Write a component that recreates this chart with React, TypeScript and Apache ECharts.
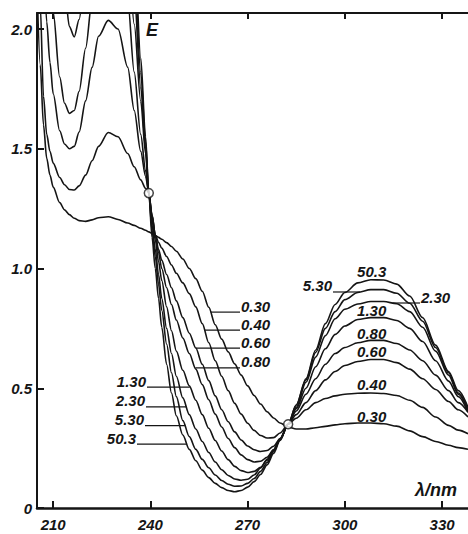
import React, { useEffect, useRef } from 'react';
import * as echarts from 'echarts';

// Wavelength grid (nm)
const wavelengths = [205, 206, 207, 208, 209, 210, 212, 213.5, 215, 216.5, 218, 220, 222, 224, 227, 230, 233, 235, 237, 238.5, 239.5, 240.5, 241.5, 242.5, 243.5, 245, 246.5, 248, 250, 252, 254, 256, 258, 260, 262, 264, 266, 268, 270, 272, 274, 276, 278, 280, 282.5, 285, 288, 291, 294, 297, 300, 304, 308, 312, 316, 320, 324, 328, 332, 335, 338];

// Extinction E for each pH curve (values above the frame are clipped)
const e030 = [2.2, 1.85, 1.6, 1.46, 1.39, 1.34, 1.275, 1.245, 1.225, 1.21, 1.2, 1.197, 1.203, 1.212, 1.216, 1.205, 1.19, 1.18, 1.168, 1.16, 1.153, 1.146, 1.138, 1.13, 1.122, 1.108, 1.092, 1.072, 1.04, 1.0, 0.958, 0.905, 0.838, 0.765, 0.705, 0.652, 0.602, 0.555, 0.51, 0.47, 0.434, 0.402, 0.376, 0.355, 0.338, 0.33, 0.33, 0.335, 0.341, 0.347, 0.352, 0.355, 0.355, 0.352, 0.342, 0.322, 0.298, 0.278, 0.262, 0.252, 0.245];
const e040 = [2.5, 2.1, 1.72, 1.56, 1.49, 1.44, 1.38, 1.35, 1.33, 1.328, 1.345, 1.39, 1.45, 1.51, 1.568, 1.55, 1.48, 1.425, 1.37, 1.335, 1.315, 1.22, 1.14, 1.11, 1.085, 1.05, 1.015, 0.98, 0.94, 0.895, 0.84, 0.77, 0.69, 0.615, 0.55, 0.49, 0.437, 0.392, 0.354, 0.324, 0.303, 0.292, 0.294, 0.313, 0.35, 0.375, 0.41, 0.44, 0.457, 0.468, 0.475, 0.479, 0.48, 0.478, 0.47, 0.45, 0.42, 0.38, 0.345, 0.325, 0.31];
const e060 = [2.8, 2.6, 2.3, 2.03, 1.86, 1.73, 1.575, 1.52, 1.5, 1.51, 1.57, 1.7, 1.84, 1.97, 2.036, 2.0, 1.84, 1.66, 1.49, 1.385, 1.315, 1.225, 1.14, 1.08, 1.035, 0.975, 0.92, 0.865, 0.795, 0.73, 0.668, 0.6, 0.532, 0.468, 0.41, 0.36, 0.318, 0.284, 0.259, 0.243, 0.236, 0.24, 0.258, 0.29, 0.35, 0.39, 0.44, 0.49, 0.535, 0.57, 0.595, 0.612, 0.62, 0.62, 0.607, 0.58, 0.54, 0.495, 0.445, 0.41, 0.38];
const e080 = [3.2, 3.0, 2.8, 2.55, 2.3, 2.07, 1.8, 1.69, 1.648, 1.66, 1.74, 1.92, 2.12, 2.3, 2.42, 2.4, 2.12, 1.82, 1.56, 1.41, 1.315, 1.22, 1.14, 1.065, 1.0, 0.92, 0.85, 0.785, 0.71, 0.645, 0.58, 0.515, 0.452, 0.392, 0.338, 0.29, 0.252, 0.222, 0.202, 0.192, 0.195, 0.212, 0.243, 0.287, 0.35, 0.405, 0.475, 0.54, 0.6, 0.645, 0.67, 0.69, 0.7, 0.7, 0.687, 0.66, 0.615, 0.555, 0.49, 0.44, 0.4];
const e130 = [3.6, 3.5, 3.4, 3.2, 3.0, 2.8, 2.45, 2.17, 2.01, 1.967, 2.04, 2.25, 2.45, 2.6, 2.7, 2.65, 2.35, 2.02, 1.7, 1.48, 1.315, 1.2, 1.12, 1.03, 0.95, 0.84, 0.74, 0.655, 0.575, 0.51, 0.45, 0.39, 0.333, 0.282, 0.238, 0.202, 0.174, 0.156, 0.148, 0.153, 0.17, 0.2, 0.24, 0.285, 0.35, 0.415, 0.5, 0.59, 0.665, 0.725, 0.76, 0.787, 0.795, 0.795, 0.783, 0.75, 0.695, 0.615, 0.53, 0.465, 0.4];
const e230 = [3.6, 3.6, 3.6, 3.6, 3.6, 3.6, 3.6, 3.5, 3.4, 3.3, 3.2, 3.1, 3.0, 3.0, 3.0, 2.95, 2.55, 2.15, 1.76, 1.5, 1.315, 1.18, 1.08, 0.975, 0.875, 0.75, 0.645, 0.55, 0.46, 0.39, 0.33, 0.278, 0.232, 0.192, 0.16, 0.136, 0.121, 0.116, 0.12, 0.138, 0.167, 0.203, 0.243, 0.288, 0.35, 0.42, 0.525, 0.63, 0.72, 0.79, 0.83, 0.852, 0.862, 0.862, 0.853, 0.82, 0.755, 0.655, 0.555, 0.475, 0.41];
const e530 = [3.7, 3.7, 3.7, 3.7, 3.7, 3.7, 3.7, 3.6, 3.5, 3.4, 3.3, 3.2, 3.1, 3.1, 3.1, 3.05, 2.7, 2.25, 1.82, 1.53, 1.315, 1.16, 1.05, 0.935, 0.825, 0.685, 0.565, 0.465, 0.365, 0.298, 0.245, 0.203, 0.168, 0.138, 0.115, 0.099, 0.091, 0.092, 0.103, 0.123, 0.153, 0.19, 0.235, 0.285, 0.35, 0.43, 0.535, 0.65, 0.75, 0.82, 0.87, 0.9, 0.912, 0.912, 0.897, 0.855, 0.78, 0.67, 0.565, 0.48, 0.41];
const e503 = [3.8, 3.8, 3.8, 3.8, 3.8, 3.8, 3.8, 3.7, 3.6, 3.5, 3.4, 3.3, 3.2, 3.2, 3.2, 3.15, 2.85, 2.35, 1.88, 1.55, 1.315, 1.13, 1.0, 0.875, 0.755, 0.6, 0.48, 0.385, 0.305, 0.245, 0.197, 0.158, 0.127, 0.103, 0.085, 0.073, 0.068, 0.073, 0.087, 0.11, 0.14, 0.18, 0.228, 0.282, 0.35, 0.43, 0.54, 0.66, 0.77, 0.85, 0.9, 0.94, 0.953, 0.952, 0.935, 0.885, 0.795, 0.68, 0.57, 0.49, 0.42];

const curveNames = ['0.30', '0.40', '0.60', '0.80', '1.30', '2.30', '5.30', '50.3'];
const curveValues = [e030, e040, e060, e080, e130, e230, e530, e503];

// Isosbestic points
const isosbestic = [[239.5, 1.315], [282.5, 0.35]];

const xTicks = [210, 240, 270, 300, 330];
const yTicks = [0, 0.5, 1.0, 1.5, 2.0];

// Label layout (positions only)
const leaderLabels = [
  { name: '0.30', level: 0.818, lo: 250, hi: 275, textX: 240, side: 'right' },
  { name: '0.40', level: 0.743, lo: 245, hi: 275, textX: 240, side: 'right' },
  { name: '0.60', level: 0.668, lo: 245, hi: 275, textX: 240, side: 'right' },
  { name: '0.80', level: 0.585, lo: 242, hi: 275, textX: 240, side: 'right' },
  { name: '1.30', level: 0.505, lo: 240, hi: 268, textX: 147, side: 'left' },
  { name: '2.30', level: 0.422, lo: 240, hi: 266, textX: 146, side: 'left' },
  { name: '5.30', level: 0.344, lo: 240, hi: 266, textX: 145, side: 'left' },
  { name: '50.3', level: 0.267, lo: 240, hi: 264, textX: 137, side: 'left' },
  { name: '5.30', level: 0.902, lo: 285, hi: 310, textX: 333, side: 'left' },
  { name: '2.30', level: 0.856, lo: 310, hi: 338, textX: 420, side: 'right' },
];
const peakLabels = [
  { name: '50.3', gap: 2 },
  { name: '1.30', gap: 1 },
  { name: '0.80', gap: 1 },
  { name: '0.60', gap: 2 },
  { name: '0.40', gap: 3 },
  { name: '0.30', gap: 1 },
];
const peakLabelWl = 309.5;

const FONT = "'Liberation Sans', Arial, sans-serif";
const INK = '#151515';

function crossAt(vals: number[], level: number, lo: number, hi: number) {
  for (let j = 0; j < wavelengths.length - 1; j++) {
    const a = wavelengths[j], b = wavelengths[j + 1];
    if (b < lo || a > hi) continue;
    const va = vals[j], vb = vals[j + 1];
    if ((va - level) * (vb - level) <= 0 && va !== vb) {
      return a + ((level - va) / (vb - va)) * (b - a);
    }
  }
  return (lo + hi) / 2;
}
function valueAt(vals: number[], w: number) {
  for (let j = 0; j < wavelengths.length - 1; j++) {
    const a = wavelengths[j], b = wavelengths[j + 1];
    if (w >= a && w <= b) return vals[j] + ((w - a) / (b - a)) * (vals[j + 1] - vals[j]);
  }
  return vals[vals.length - 1];
}

export default function App() {
  const ref = useRef<HTMLDivElement>(null);
  useEffect(() => {
    const el = ref.current!;
    const chart = echarts.init(el, null, { renderer: 'svg' });
    const labelFont = { fontFamily: FONT, fontSize: 15, fontStyle: 'italic' as const, fontWeight: 'bold' as const, color: INK };
    const option: any = {
      animation: false,
      backgroundColor: '#fff',
      grid: { left: 37, right: 0, top: 13, bottom: 26, containLabel: false, outerBoundsMode: 'none' },
      xAxis: [
        {
          type: 'value', min: 205, max: 338, position: 'bottom',
          axisLine: { show: true, onZero: false, lineStyle: { color: INK, width: 2.5 } },
          axisTick: { show: true, inside: true, length: 7, customValues: xTicks, lineStyle: { color: INK, width: 2 } },
          axisLabel: { customValues: xTicks, margin: 9, ...labelFont },
          splitLine: { show: false },
        },
        {
          type: 'value', min: 205, max: 338, position: 'top',
          axisLine: { show: true, onZero: false, lineStyle: { color: INK, width: 2 } },
          axisTick: { show: true, inside: true, length: 6, customValues: xTicks, lineStyle: { color: INK, width: 2 } },
          axisLabel: { show: false },
          splitLine: { show: false },
        },
      ],
      yAxis: {
        type: 'value', min: 0, max: 2.067,
        axisLine: { show: true, onZero: false, lineStyle: { color: INK, width: 2 } },
        axisTick: { show: true, inside: true, length: 7, customValues: yTicks, lineStyle: { color: INK, width: 2 } },
        axisLabel: {
          customValues: yTicks, margin: 5, ...labelFont,
          formatter: (v: number) => (v === 0 ? '0' : v.toFixed(1)),
        },
        splitLine: { show: false },
      },
      series: [
        ...curveNames.map((name, i) => ({
          type: 'line', name, xAxisIndex: 0, yAxisIndex: 0,
          data: wavelengths.map((w, j) => [w, curveValues[i][j]]),
          showSymbol: false, symbol: 'none', smooth: 0.3, smoothMonotone: 'x', clip: true,
          lineStyle: { color: INK, width: 1.6 }, silent: true, z: 2,
        })),
        {
          type: 'scatter', name: 'isosbestic', xAxisIndex: 0, yAxisIndex: 0,
          data: isosbestic, symbol: 'circle', symbolSize: 9,
          itemStyle: { color: '#fff', borderColor: INK, borderWidth: 1.5 }, z: 5, silent: true,
        },
      ],
    };
    chart.setOption(option);

    const toPx = (w: number, e: number) => chart.convertToPixel({ seriesIndex: 0 }, [w, e]) as number[];
    const textStyle = (text: string, x: number, y: number, align: string, size = 15) => ({
      type: 'text', x, y, silent: true, z: 10,
      style: { text, fontFamily: FONT, fontSize: size, fontStyle: 'italic', fontWeight: 'bold', fill: INK, align, verticalAlign: 'middle' },
    });
    const graphics: any[] = [];
    leaderLabels.forEach((l) => {
      const idx = curveNames.indexOf(l.name);
      const w = crossAt(curveValues[idx], l.level, l.lo, l.hi);
      const [cx, cy] = toPx(w, l.level);
      graphics.push({ type: 'line', silent: true, z: 9, shape: { x1: cx, y1: cy, x2: l.textX, y2: cy }, style: { stroke: INK, lineWidth: 1.2 } });
      graphics.push(textStyle(l.name, l.textX + (l.side === 'right' ? 1 : -1), cy - 6, l.side === 'right' ? 'left' : 'right'));
    });
    peakLabels.forEach((l) => {
      const idx = curveNames.indexOf(l.name);
      const e = valueAt(curveValues[idx], peakLabelWl);
      const [cx, cy] = toPx(peakLabelWl, e);
      graphics.push(textStyle(l.name, cx - 4, cy - l.gap - 6, 'center'));
    });
    graphics.push(textStyle('E', 152, 30, 'center', 18));
    graphics.push(textStyle('λ/nm', 436, 490, 'center', 18));
    chart.setOption({ graphic: graphics });

    return () => chart.dispose();
  }, []);
  return <div ref={ref} style={{ position: 'fixed', left: 0, top: 0, width: 468, height: 534, background: '#fff' }} />;
}
